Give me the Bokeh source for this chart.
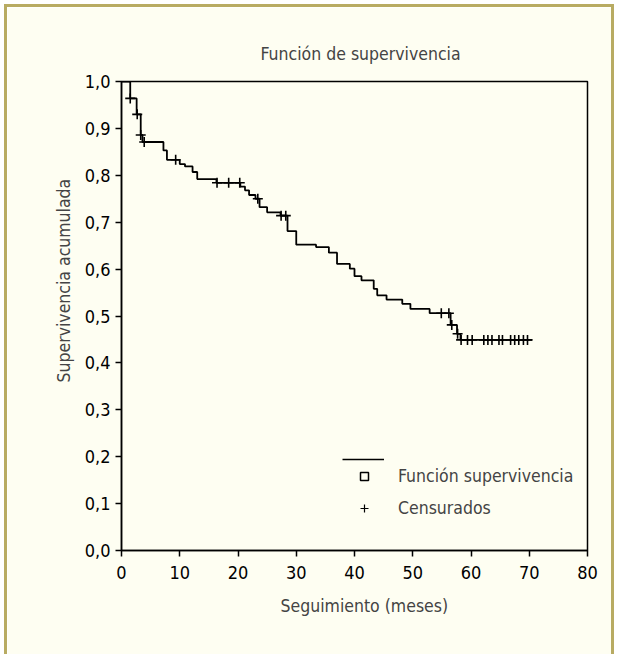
from bokeh.plotting import figure
from bokeh.models import FixedTicker, Legend, LegendItem, CustomJSTickFormatter, Title
from bokeh.embed import file_html
from bokeh.resources import INLINE

# ---- data ----
event_times = [0, 1.5, 2.6, 3.3, 3.6, 7.2, 7.8, 10.0, 10.9, 12.2, 13.0, 16.3, 20.4, 21.2,
               21.9, 23.0, 23.7, 25.0, 27.3, 28.5, 30.0, 33.4, 35.6, 37.0, 39.2, 40.0,
               41.2, 43.3, 43.9, 45.5, 48.2, 49.6, 52.9, 56.5, 57.6, 58.2]
survival = [1.0, 0.964, 0.930, 0.886, 0.871, 0.853, 0.833, 0.824, 0.819, 0.807, 0.792,
            0.784, 0.776, 0.768, 0.758, 0.750, 0.732, 0.721, 0.714, 0.681, 0.652, 0.647,
            0.635, 0.611, 0.601, 0.585, 0.576, 0.558, 0.544, 0.535, 0.526, 0.515, 0.506,
            0.481, 0.462, 0.449]
end_time = 70.5
censor_times = [1.5, 2.7, 3.3, 3.9, 9.3, 16.4, 18.4, 20.3, 23.4, 27.4, 28.2, 54.9, 56.2,
                56.7, 57.7, 58.3, 59.4, 60.2, 62.2, 62.9, 63.6, 64.8, 65.4, 66.8, 67.5,
                68.2, 69.0, 69.7]
x_ticks = [0, 10, 20, 30, 40, 50, 60, 70, 80]
y_ticks = [0.0, 0.1, 0.2, 0.3, 0.4, 0.5, 0.6, 0.7, 0.8, 0.9, 1.0]
title_text = "Función de supervivencia"
x_label = "Seguimiento (meses)"
y_label = "Supervivencia acumulada"
legend_labels = ["Función supervivencia", "Censurados"]


def surv_at(t):
    s = survival[0]
    for et, sv in zip(event_times, survival):
        if et <= t:
            s = sv
    return s


censor_surv = [surv_at(t) for t in censor_times]

FONT = "DejaVu Sans Condensed"
FS = "17.5px"
BG = "#fefef2"
EDGE = "3px solid #b8ab62"

p = figure(width=610, height=650, x_range=(0, 80), y_range=(0, 1.0),
           output_backend="svg", toolbar_location=None,
           min_border_left=114, min_border_right=30, min_border_top=74, min_border_bottom=107,
           background_fill_color=BG, border_fill_color=BG,
           styles={"border-left": EDGE, "border-right": EDGE, "border-top": EDGE,
                   "margin-left": "4px", "margin-top": "4px"})

p.grid.visible = False
p.outline_line_color = "black"
p.outline_line_width = 1.5

p.title.text = title_text
p.title.align = "left"
p.title.offset = 139
p.title.text_font = FONT
p.title.text_font_size = FS
p.title.text_font_style = "normal"
p.title.standoff = 36

for ax in (p.xaxis[0], p.yaxis[0]):
    ax.major_label_text_font = FONT
    ax.major_label_text_font_size = "18px"
    ax.major_tick_out = 6
    ax.major_tick_in = 0
    ax.minor_tick_line_color = None
    ax.axis_line_width = 1.5
    ax.major_tick_line_width = 1.5
    ax.major_label_text_color = "black"

p.xaxis.ticker = FixedTicker(ticks=x_ticks)
p.yaxis.ticker = FixedTicker(ticks=y_ticks)
p.yaxis.formatter = CustomJSTickFormatter(code="return tick.toFixed(1).replace('.', ',');")
p.xaxis.major_label_standoff = 9
p.yaxis.major_label_standoff = 5

xt = Title(text=x_label, align="left", offset=159, text_font=FONT,
           text_font_size=FS, text_font_style="normal", standoff=24)
yt = Title(text=y_label, align="left", offset=168, text_font=FONT,
           text_font_size=FS, text_font_style="normal", standoff=16)
p.add_layout(xt, "below")
p.add_layout(yt, "left")

# survival curve
p.step(event_times + [end_time], survival + [survival[-1]], mode="after",
       line_color="black", line_width=1.8)
# censored marks
p.scatter(censor_times, censor_surv, marker="cross", size=10,
          line_color="black", line_width=1.6)

# legend swatch renderers (not drawn in the plot: NaN coordinates)
nan = float("nan")
leg_line = p.line([nan], [nan], line_color="black", line_width=1.5)
leg_sq = p.scatter([nan], [nan], marker="square", size=8, fill_color=None,
                   line_color="black", line_width=1.5)
leg_cross = p.scatter([nan], [nan], marker="cross", size=9, line_color="black", line_width=1.2)

common = dict(border_line_color=None, background_fill_alpha=0, padding=0, margin=0,
              label_text_font=FONT, label_text_font_size=FS, label_height=24,
              glyph_height=24)
leg1 = Legend(items=[LegendItem(label=" ", renderers=[leg_line])],
              location=(221, 79), glyph_width=42, **common)
leg2 = Legend(items=[LegendItem(label=legend_labels[0], renderers=[leg_sq]),
                     LegendItem(label=legend_labels[1], renderers=[leg_cross])],
              location=(233, 30), glyph_width=20, spacing=8,
              label_standoff=24, **common)
p.add_layout(leg1, "center")
p.add_layout(leg2, "center")

open("out.html", "w").write(file_html(p, INLINE))
